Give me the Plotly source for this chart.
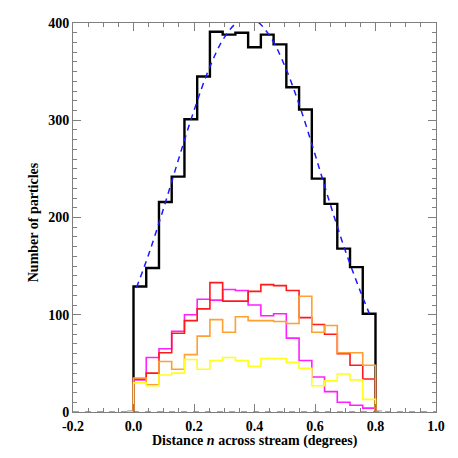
import numpy as np
import plotly.graph_objects as go

# ── Data ──────────────────────────────────────────────────────────────────
X_LO, X_HI, NBINS = 0.0, 0.8, 19

total   = [129, 148, 216, 242, 301, 345, 391, 388, 390, 375, 388, 378, 334, 311, 240, 214, 168, 149, 101]
magenta = [33, 56, 65, 83, 100, 116, 115, 126, 125, 110, 99, 101, 76, 53, 36, 21, 10, 7, 4]
red     = [34, 40, 61, 81, 94, 106, 133, 114, 114, 124, 131, 130, 125, 97, 90, 80, 60, 48, 34]
orange  = [35, 28, 52, 44, 59, 78, 95, 82, 98, 94, 94, 93, 91, 119, 82, 89, 61, 61, 48]
yellow  = [30, 27, 38, 40, 54, 44, 53, 56, 53, 47, 55, 55, 51, 45, 27, 32, 39, 33, 13]

fit_x = [0.01, 0.05, 0.10, 0.15, 0.20, 0.25, 0.30, 0.35, 0.40, 0.45, 0.50, 0.55, 0.60, 0.65, 0.70, 0.75, 0.78]
fit_y = [128, 162, 210, 261, 310, 353, 385, 402, 403, 387, 356, 314, 265, 214, 166, 124, 101]

x_ticks  = [-0.2, 0.0, 0.2, 0.4, 0.6, 0.8, 1.0]
x_labels = ["-0.2", "0.0", "0.2", "0.4", "0.6", "0.8", "1.0"]
y_ticks  = [0, 100, 200, 300, 400]

# bin centres, padded with an empty bin on each side (IDL psym=10 look)
w = (X_HI - X_LO) / NBINS
centres = X_LO + w * (np.arange(-1, NBINS + 1) + 0.5)

def pad(v):
    return [0] + list(v) + [0]

FONT = "Liberation Serif, Times New Roman, serif"
AXIS_GREY = "#7f7f7f"
TITLE_FONT = dict(family=FONT, size=14, color="#000000", weight="bold")

fig = go.Figure()

def step(vals, color, width):
    fig.add_trace(go.Scatter(
        x=centres, y=pad(vals), mode="lines",
        line=dict(color=color, width=width, shape="hvh"),
        showlegend=False,
    ))

step(total, "#000000", 2.4)
fig.add_trace(go.Scatter(
    x=fit_x, y=fit_y, mode="lines",
    line=dict(color="#1a1aff", width=1.5, dash="6px,5px", shape="spline"),
    showlegend=False,
))
step(magenta, "#ff20ff", 1.6)
step(red,     "#ff1a1a", 1.6)
step(orange,  "#ffa030", 1.6)
step(yellow,  "#ffff1a", 1.6)

# red dashed zero line
fig.add_trace(go.Scatter(
    x=[x_ticks[0], x_ticks[-1]], y=[0, 0], mode="lines",
    line=dict(color="#ff0000", width=1.2, dash="6px,6px"),
    showlegend=False,
))

axis_common = dict(
    showline=True, linecolor=AXIS_GREY, linewidth=1, mirror="allticks",
    ticks="inside", tickcolor=AXIS_GREY, ticklen=8, tickwidth=1,
    showgrid=False, zeroline=False, automargin=False,
    tickfont=dict(family=FONT, size=14, color="#000000", weight="bold"),
)

# the page body adds an 8px offset, so the figure is 450px and margins are trimmed
fig.update_layout(
    width=450, height=450,
    paper_bgcolor="white", plot_bgcolor="white",
    margin=dict(l=65, r=22, t=15, b=46),
    xaxis=dict(
        **axis_common,
        range=[-0.2, 1.0], tickvals=x_ticks, ticktext=x_labels, ticklabelstandoff=1,
        minor=dict(dtick=0.05, ticks="inside", ticklen=4, tickcolor=AXIS_GREY, showgrid=False),
    ),
    yaxis=dict(
        **axis_common,
        range=[0, 400], tickvals=y_ticks,
        minor=dict(dtick=10, ticks="inside", ticklen=4, tickcolor=AXIS_GREY, showgrid=False),
    ),
    annotations=[
        dict(text="Distance <i>n</i> across stream (degrees)", font=TITLE_FONT,
             xref="paper", yref="paper", x=0.5, y=-0.075,
             xanchor="center", yanchor="middle", showarrow=False),
        dict(text="Number of particles", font=TITLE_FONT, textangle=-90,
             xref="paper", yref="paper", x=-0.110, y=0.488,
             xanchor="center", yanchor="middle", showarrow=False),
    ],
)

fig.write_html("out.html")
